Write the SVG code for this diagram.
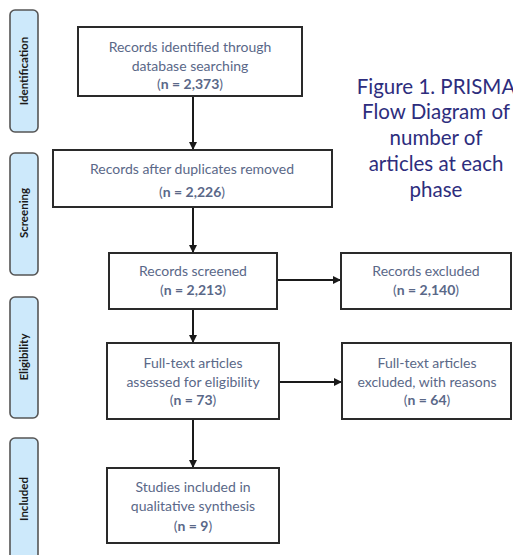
<svg xmlns="http://www.w3.org/2000/svg" width="513" height="555" viewBox="0 0 513 555">
<style>
.box{fill:#fff;stroke:#2a2a2a;stroke-width:2}
.phase{fill:#cde9fb;stroke:#555;stroke-width:1.6}
.pt{font-family:Lato,"Open Sans",sans-serif;font-size:11.5px;font-weight:bold;fill:#1a1a1a;text-anchor:middle}
.t{font-family:Lato,"Open Sans",sans-serif;font-size:14px;fill:#5a6888;text-anchor:middle}
.n{font-weight:bold}
.cap{font-family:Lato,"Open Sans",sans-serif;font-size:20.5px;fill:#2d2d7d;text-anchor:middle}
.c{stroke:#1a1a1a;stroke-width:2;fill:none;marker-end:url(#ah)}
</style>
<defs>
<marker id="ah" viewBox="0 0 10 10" refX="10" refY="5" markerWidth="4" markerHeight="4" orient="auto" markerUnits="strokeWidth">
<path d="M0,0 L10,5 L0,10 z" fill="#1a1a1a"/>
</marker>
</defs>
<rect width="513" height="555" fill="#fff"/>
<g id="phase-identification"><rect class="phase" x="10" y="10" width="28" height="122" rx="5"/><text class="pt" transform="translate(28,71) rotate(-90)">Identification</text></g>
<g id="phase-screening"><rect class="phase" x="10" y="153" width="28" height="122" rx="5"/><text class="pt" transform="translate(28,213) rotate(-90)">Screening</text></g>
<g id="phase-eligibility"><rect class="phase" x="10" y="297" width="28" height="121" rx="5"/><text class="pt" transform="translate(28,357) rotate(-90)">Eligibility</text></g>
<g id="phase-included"><rect class="phase" x="10" y="438" width="28" height="125" rx="5"/><text class="pt" transform="translate(28,499) rotate(-90)">Included</text></g>
<g id="caption">
<text class="cap" x="436" y="94">Figure 1. PRISMA</text>
<text class="cap" x="436" y="119">Flow Diagram of</text>
<text class="cap" x="436" y="145">number of</text>
<text class="cap" x="436" y="171">articles at each</text>
<text class="cap" x="436" y="197">phase</text>
</g>
<g id="connectors">
<line class="c" x1="193" y1="96" x2="193" y2="150"/>
<line class="c" x1="193" y1="207" x2="193" y2="253"/>
<line class="c" x1="277" y1="280" x2="341" y2="280"/>
<line class="c" x1="193" y1="309" x2="193" y2="343"/>
<line class="c" x1="279" y1="382" x2="342" y2="382"/>
<line class="c" x1="193" y1="419" x2="193" y2="468"/>
</g>
<g id="identified"><rect class="box" x="78" y="27" width="224" height="69"/>
<text class="t" x="190" y="51.5">Records identified through</text>
<text class="t" x="190" y="70.5">database searching</text>
<text class="t" x="190" y="88.5">(<tspan class="n">n = 2,373</tspan>)</text></g>
<g id="deduplicated"><rect class="box" x="53" y="150" width="279" height="57"/>
<text class="t" x="192" y="173.5">Records after duplicates removed</text>
<text class="t" x="192" y="196.5">(<tspan class="n">n = 2,226</tspan>)</text></g>
<g id="screened"><rect class="box" x="109" y="253" width="168" height="56"/>
<text class="t" x="193" y="276">Records screened</text>
<text class="t" x="193" y="295">(<tspan class="n">n = 2,213</tspan>)</text></g>
<g id="excluded"><rect class="box" x="341" y="253" width="170" height="56"/>
<text class="t" x="426" y="276">Records excluded</text>
<text class="t" x="426" y="295">(<tspan class="n">n = 2,140</tspan>)</text></g>
<g id="fulltext"><rect class="box" x="107" y="343" width="172" height="76"/>
<text class="t" x="193" y="367.5">Full-text articles</text>
<text class="t" x="193" y="386.5">assessed for eligibility</text>
<text class="t" x="193" y="404.5">(<tspan class="n">n = 73</tspan>)</text></g>
<g id="fulltext-excluded"><rect class="box" x="342" y="343" width="169" height="76"/>
<text class="t" x="427" y="367.5">Full-text articles</text>
<text class="t" x="427" y="386.5">excluded, with reasons</text>
<text class="t" x="427" y="404.5">(<tspan class="n">n = 64</tspan>)</text></g>
<g id="included"><rect class="box" x="107" y="468" width="172" height="75"/>
<text class="t" x="193" y="492">Studies included in</text>
<text class="t" x="193" y="511">qualitative synthesis</text>
<text class="t" x="193" y="531">(<tspan class="n">n = 9</tspan>)</text></g>
</svg>
